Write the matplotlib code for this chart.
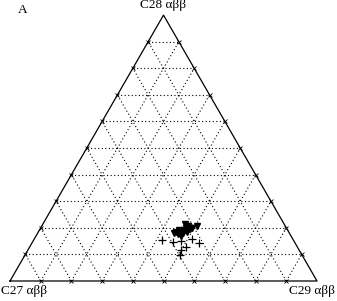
import numpy as np
import matplotlib
matplotlib.use("Agg")
import matplotlib.pyplot as plt

plt.rcParams["font.family"] = ["Liberation Serif", "DejaVu Serif"]

# ternary data in percent (C27, C28, C29 steranes)
tri_c28 = [18.4, 17.7, 18.0, 18.8, 19.2, 19.9, 21.4, 20.7, 19.5, 19.9, 19.2, 18.0, 16.9, 20.7, 18.0, 18.4]
tri_c29 = [44.9, 45.9, 46.4, 46.6, 47.1, 47.4, 46.3, 47.6, 48.9, 49.3, 45.4, 44.4, 47.2, 50.6, 47.4, 48.4]
plus_c28 = [15.4, 14.7, 15.0, 15.8, 14.3, 11.7, 12.8, 9.8]
plus_c29 = [41.8, 45.7, 48.2, 51.4, 54.4, 49.9, 50.9, 50.5]

corner_labels = ["C27 αββ", "C28 αββ", "C29 αββ"]
panel_label = "A"
steps = np.arange(10, 100, 10)

H = np.sqrt(3) / 2


def to_xy(c28, c29):
    c28 = np.asarray(c28) / 100.0
    c29 = np.asarray(c29) / 100.0
    return c29 + c28 / 2, c28 * H


fig = plt.figure(figsize=(3.37, 3.01), dpi=100)
ax = fig.add_axes([0, 0, 1, 1])
ax.set_xlim(-10 / 307, 327 / 307)
ax.set_ylim(-20 / 307, 281 / 307)
ax.axis("off")

# outline
ax.plot([0, 1, 0.5, 0], [0, 0, H, 0], color="black", lw=0.9, zorder=3)

# dotted grid + edge ticks
for s in steps:
    for p, q in [
        (to_xy(s, 0), to_xy(s, 100 - s)),
        (to_xy(0, s), to_xy(100 - s, s)),
        (to_xy(0, 100 - s), to_xy(100 - s, 0)),
    ]:
        ax.plot([p[0], q[0]], [p[1], q[1]], color="black", lw=0.8,
                linestyle=(0, (1, 2.2)), zorder=1)
    for e in [to_xy(s, 0), to_xy(0, s), to_xy(s, 100 - s)]:
        ax.plot(e[0], e[1], marker="x", ms=3, mew=0.6, color="black", zorder=3)

# data
tx, ty = to_xy(tri_c28, tri_c29)
ax.plot(tx, ty, linestyle="none", marker="v", ms=5, color="black", zorder=4)
px, py = to_xy(plus_c28, plus_c29)
ax.plot(px, py, linestyle="none", marker="+", ms=6, mew=0.9, color="black", zorder=4)

fs = 9.5
ax.text(0.5, H + 0.012, corner_labels[1], ha="center", va="bottom", fontsize=fs)
ax.text(-9 / 307, -0.012, corner_labels[0], ha="left", va="top", fontsize=fs)
ax.text(325 / 307, -0.012, corner_labels[2], ha="right", va="top", fontsize=fs)
ax.text(13 / 307, 271 / 307, panel_label, ha="center", va="center", fontsize=fs)

fig.savefig("out.png", dpi=100)
